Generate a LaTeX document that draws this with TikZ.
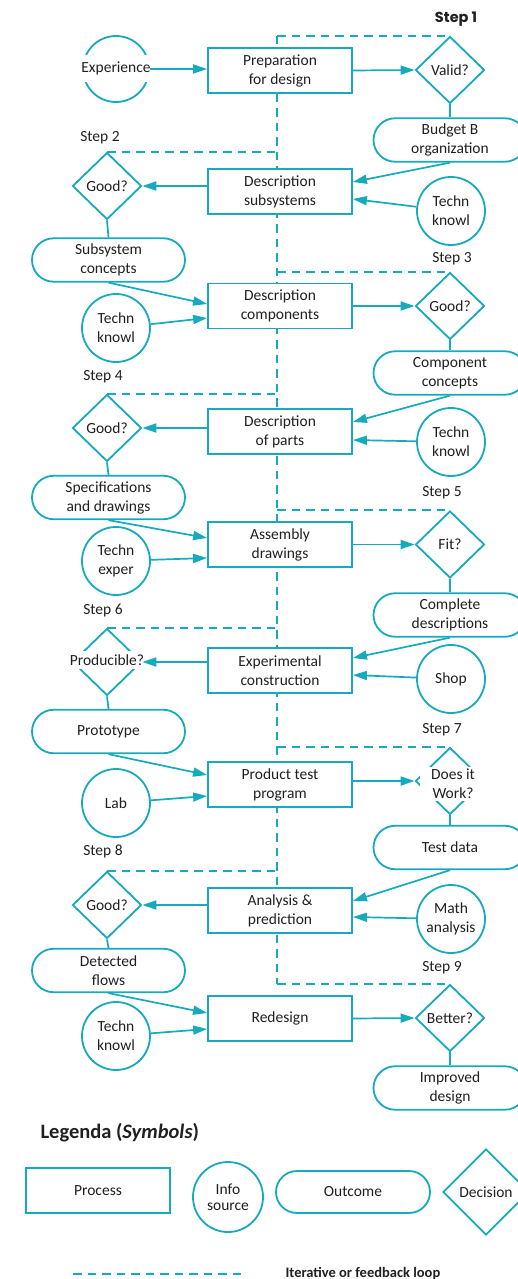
\documentclass[tikz,border=0pt]{standalone}
\usepackage{fontspec}
\setmainfont{Carlito}
\newfontfamily\stepfont{Poppins}
\usetikzlibrary{arrows.meta,shapes.geometric,shapes.misc}
\definecolor{flowteal}{RGB}{22,170,188}
\definecolor{ink}{HTML}{231F20}
\pgfdeclarelayer{paper}
\pgfdeclarelayer{loops}
\pgfsetlayers{paper,loops,main}

\begin{document}
\begin{tikzpicture}[x=1pt,y=-1pt,
  base/.style={font=\fontsize{15.5}{19}\selectfont, text=ink, align=center},
  process/.style={base, draw=flowteal, line width=1.8pt, fill=white,
    minimum width=144pt, minimum height=45pt, inner sep=0pt},
  source/.style={base, circle, draw=flowteal, line width=1.8pt, fill=white,
    minimum size=68pt, inner sep=0pt},
  outcome/.style={base, rounded rectangle, draw=flowteal, line width=1.8pt, fill=white,
    minimum width=153pt, minimum height=43.5pt, inner sep=0pt},
  decision/.style={base, diamond, draw=flowteal, line width=1.8pt, fill=white,
    minimum width=69pt, minimum height=67pt, inner sep=0pt},
  cutlabel/.style={base, fill=white, inner xsep=3pt, inner ysep=3.5pt},
  steplabel/.style={base},
  flow/.style={draw=flowteal, line width=1.7pt, -{Triangle[length=14pt,width=9pt]}},
  link/.style={draw=flowteal, line width=1.7pt},
  loop/.style={draw=flowteal, line width=1.9pt, dash pattern=on 8.5pt off 6pt},
]
\clip (0,0) rectangle (518,1279);
\begin{pgfonlayer}{paper}
  \fill[white] (0,0) rectangle (518,1279);
\end{pgfonlayer}

\coordinate (spine) at (277,0);

% ---------- Step 1
\node[source, minimum size=66pt] (e0) at (116,69) {};
\node[cutlabel, inner ysep=7pt] (e0t) at (116,68.5) {Experience};
\node[process] (b1) at (280,70.5) {Preparation\\for design};
\node[decision] (d1) at (450,70) {Valid?};
\node[outcome] (o1) at (450,140) {Budget B\\organization};
\node[base, font=\stepfont\bfseries\fontsize{14.5}{18}\selectfont] (s1) at (456,19) {Step 1};
\draw[flow] (e0.east) -- (e0.east -| b1.west);
\draw[flow] (b1.east) -- (d1.west);
\draw[link] (d1.south) -- (o1.north);

% ---------- Step 2
\node[process] (b2) at (280,191.5) {Description\\subsystems};
\node[decision] (d2) at (107,186) {Good?};
\node[outcome] (o2) at (108.5,260) {Subsystem\\concepts};
\node[source] (c2) at (451,211) {Techn\\knowl};
\node[steplabel] (s2) at (100,138) {Step 2};
\draw[flow] (o1.south) -- ([yshift=9.5pt]b2.east);
\draw[flow] (c2) -- ([yshift=-7.5pt]b2.east);
\draw[flow] (d2.east -| b2.west) -- (d2.east);
\draw[link] (d2.south) -- (o2.north);

% ---------- Step 3
\node[process] (b3) at (280,306) {Description\\components};
\node[source] (c3) at (116,328) {Techn\\knowl};
\node[decision] (d3) at (450,306) {Good?};
\node[outcome] (o3) at (450,373) {Component\\concepts};
\node[steplabel] (s3) at (452,259) {Step 3};
\draw[flow] (o2.south) -- ([yshift=2pt]b3.west);
\draw[flow] (c3) -- ([yshift=-12pt]b3.west);
\draw[flow] (b3.east) -- (d3.west);
\draw[link] (d3.south) -- (o3.north);

% ---------- Step 4
\node[process] (b4) at (280,431.5) {Description\\of parts};
\node[decision] (d4) at (107,428) {Good?};
\node[outcome] (o4) at (108.5,497.5) {Specifications\\and drawings};
\node[source] (c4) at (451,442) {Techn\\knowl};
\node[steplabel] (s4) at (103,377) {Step 4};
\draw[flow] (o3.south) -- ([yshift=9.5pt]b4.east);
\draw[flow] (c4) -- ([yshift=-8.5pt]b4.east);
\draw[flow] (d4.east -| b4.west) -- (d4.east);
\draw[link] (d4.south) -- (o4.north);

% ---------- Step 5
\node[process] (b5) at (280,544.5) {Assembly\\drawings};
\node[source] (c5) at (116,561) {Techn\\exper};
\node[decision] (d5) at (450,544.5) {Fit?};
\node[outcome] (o5) at (450,615) {Complete\\descriptions};
\node[steplabel] (s5) at (442,493) {Step 5};
\draw[flow] (o4.south) -- ([yshift=6.5pt]b5.west);
\draw[flow] (c5) -- ([yshift=-13.5pt]b5.west);
\draw[flow] (b5.east) -- (d5.west);
\draw[link] (d5.south) -- (o5.north);

% ---------- Step 6
\node[process] (b6) at (280,670.5) {Experimental\\construction};
\node[decision] (d6) at (107,662) {};
\node[cutlabel] (d6t) at (107,660) {Producible?};
\node[outcome] (o6) at (108.5,731.5) {Prototype};
\node[source] (c6) at (451,679) {Shop};
\node[steplabel] (s6) at (103,611) {Step 6};
\draw[flow] (o5.south) -- ([yshift=12.5pt]b6.east);
\draw[flow] (c6) -- ([yshift=-4.5pt]b6.east);
\draw[flow] (d6.east -| b6.west) -- (d6.east);
\draw[link] (d6.south) -- (o6.north);

% ---------- Step 7
\node[process] (b7) at (280,784.5) {Product test\\program};
\node[source] (c7) at (116,803) {Lab};
\node[decision] (d7) at (450,781) {};
\node[cutlabel, inner xsep=11pt, inner ysep=2pt] (d7t) at (453,784) {Does it\\Work?};
\node[outcome] (o7) at (450,847.5) {Test data};
\node[steplabel] (s7) at (442,730) {Step 7};
\draw[flow] (o6.south) -- ([yshift=9.5pt]b7.west);
\draw[flow] (c7) -- ([yshift=-11.5pt]b7.west);
\draw[flow] (d7.west -| b7.east) -- (d7.west);
\draw[link] (d7.south) -- (o7.north);

% ---------- Step 8
\node[process] (b8) at (280,910.5) {Analysis \&\\prediction};
\node[decision] (d8) at (107,905) {Good?};
\node[outcome] (o8) at (108.5,970.5) {Detected\\flows};
\node[source] (c8) at (451,919) {Math\\analysis};
\node[steplabel] (s8) at (103,851) {Step 8};
\draw[flow] (o7.south) -- ([yshift=9.5pt]b8.east);
\draw[flow] (c8) -- ([yshift=-6.5pt]b8.east);
\draw[flow] (d8.east -| b8.west) -- (d8.east);
\draw[link] (d8.south) -- (o8.north);

% ---------- Step 9
\node[process] (b9) at (280,1018.5) {Redesign};
\node[source] (c9) at (116,1036) {Techn\\knowl};
\node[decision] (d9) at (450,1018) {Better?};
\node[outcome] (o9) at (450,1088) {Improved\\design};
\node[steplabel] (s9) at (442,968) {Step 9};
\draw[flow] (o8.south) -- ([yshift=5.5pt]b9.west);
\draw[flow] (c9) -- ([yshift=-10.5pt]b9.west);
\draw[flow] (b9.east) -- (d9.west);
\draw[link] (d9.south) -- (o9.north);

% ---------- iteration loops behind the process boxes
\begin{pgfonlayer}{loops}
  \draw[loop] (d1.north -| spine) -- (d9.north -| spine);
  \foreach \d in {d1,d3,d5,d7,d9} {
    \draw[loop] (\d.north -| spine) -- (\d.north);
  }
  \foreach \d in {d2,d4,d6,d8} {
    \draw[loop] (\d.north) -- (\d.north -| spine);
  }
\end{pgfonlayer}

% ---------- legend
\node[base, anchor=base west, font=\bfseries\fontsize{20.5}{24}\selectfont] (lt) at (37,1138)
  {Legenda (\textit{Symbols})};
\node[process] (lp) at (98,1190.5) {Process};
\node[source, minimum size=70pt, font=\fontsize{15.5}{16.5}\selectfont] (lc) at (228,1197) {Info\\source};
\node[outcome, minimum width=154pt, minimum height=42pt] (lo) at (353,1192) {Outcome};
\node[decision, minimum width=86pt, minimum height=86pt] (ld) at (486,1192) {Decision};
\coordinate (k1) at (73,1274);
\coordinate (k2) at (243,1274);
\draw[loop] (k1) -- (k2);
\node[base, anchor=base west, font=\bfseries\fontsize{14.5}{17}\selectfont] (lk) at (282,1277)
  {Iterative or feedback loop};
\end{tikzpicture}
\end{document}
